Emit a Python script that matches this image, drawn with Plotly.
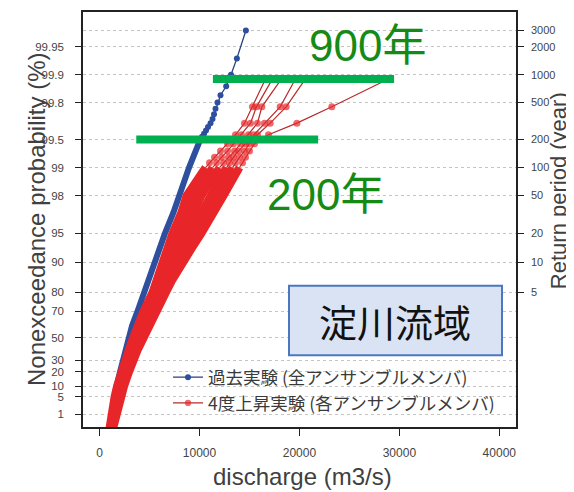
import numpy as np
import plotly.graph_objects as go

# ---------------- data ----------------
prob_ticks = [1, 5, 10, 20, 30, 50, 70, 80, 90, 95, 98, 99, 99.5, 99.8, 99.9, 99.95]
prob_labels = ["1", "5", "10", "20", "30", "50", "70", "80", "90", "95", "98", "99",
               "99.5", "99.8", "99.9", "99.95"]
rp_ticks = [5, 10, 20, 50, 100, 200, 500, 1000, 2000, 3000]
rp_labels = ["5", "10", "20", "50", "100", "200", "500", "1000", "2000", "3000"]
x_ticks = [0, 10000, 20000, 30000, 40000]
x_labels = ["0", "10000", "20000", "30000", "40000"]

# past experiment (all ensemble members, 3000 years)
blue_body_p = [0.03, 0.3, 1, 3, 5, 10, 20, 30, 40, 50, 60, 70, 80, 85, 90, 93, 95, 97, 98, 99, 99.5002]
blue_body_q = [800, 1000, 1150, 1350, 1450, 1700, 2050, 2350, 2600, 2850, 3250, 3800, 4450, 4900,
               5500, 6000, 6550, 7400, 7950, 8950, 10070]
blue_tail_p = [99.50017, 99.53349, 99.56681, 99.60013, 99.63346, 99.66678, 99.70010, 99.73342,
               99.76674, 99.80007, 99.83339, 99.86671, 99.90003, 99.93336, 99.96668]
blue_tail_q = [10070, 10250, 10450, 10650, 10850, 11100, 11300, 11450, 11600, 11800, 12100,
               12670, 13150, 13740, 14640]

# +4K experiment (each ensemble member, 900 years)
red_body_p = [0.05, 0.3, 1, 3, 5, 10, 20, 30, 40, 50, 60, 70, 80, 85, 90, 93, 95, 97, 98, 99]
red_body_q_f = [900, 1050, 1150, 1350, 1500, 1750, 2150, 2550, 2950, 3350, 3800, 4400, 5300, 5750,
                6200, 6800, 7300, 8200, 8700, 10600]
red_body_q_e = [950, 1130, 1250, 1460, 1610, 1880, 2300, 2700, 3130, 3560, 4030, 4650, 5560, 6050,
                6650, 7300, 7900, 8900, 9500, 11300]
red_body_q_d = [1010, 1200, 1340, 1560, 1710, 2020, 2460, 2870, 3320, 3770, 4260, 4900, 5810, 6350,
                7100, 7750, 8450, 9550, 10200, 12000]
red_body_q_c = [1070, 1280, 1460, 1680, 1830, 2160, 2610, 3020, 3500, 3980, 4500, 5150, 6070, 6650,
                7550, 8250, 9000, 10250, 11000, 12700]
red_body_q_b = [1130, 1370, 1550, 1790, 1940, 2300, 2780, 3180, 3670, 4190, 4720, 5400, 6360, 6980,
                8000, 8800, 9600, 10900, 11700, 13300]
red_body_q_a = [1200, 1450, 1650, 1900, 2050, 2450, 2950, 3350, 3850, 4400, 4950, 5650, 6650, 7300,
                8500, 9300, 10200, 11500, 12400, 14000]

red_tail_p = [99.11210, 99.22309, 99.33407, 99.44506, 99.55605, 99.66704, 99.77802, 99.88901]
red_tail_q_a = [14300, 14600, 15000, 15500, 16900, 19740, 23240, 28900]
red_tail_q_b = [13600, 14000, 14500, 15000, 15800, 17070, 18670, 20600]
red_tail_q_c = [13000, 13400, 13900, 14600, 15400, 16500, 18070, 19600]
red_tail_q_d = [12400, 12900, 13500, 14100, 14900, 15800, 16240, 18200]
red_tail_q_e = [11700, 12200, 12800, 13400, 14200, 15100, 15700, 17300]
red_tail_q_f = [11000, 11500, 12100, 12800, 13600, 14500, 15300, 16600]

# reference return-period levels (green bars)
level_periods = [900, 200]
level_labels = ["900年", "200年"]
level_q_from = [11340, 3670]
level_q_to = [29470, 21870]

# ---------------- helpers ----------------
def gumbel(p_percent):
    p = np.asarray(p_percent, dtype=float) / 100.0
    return -np.log(-np.log(p))

def gumbel_T(T):
    T = np.asarray(T, dtype=float)
    return -np.log(-np.log(1.0 - 1.0 / T))

OFF = 8  # page body margin
W, H = 566, 484
ML, MT = 75, 2
PW, PH = 433, 417
MR, MB = W - ML - PW, H - MT - PH

def px(xp):  # page pixel -> paper
    return (xp - OFF - ML) / PW

def py(yp):
    return 1 - (yp - OFF - MT) / PH

BLUE = "#2d4f9e"
BLUE_LINE = "#26407e"
RED = "#e8262a"
RED_LINE = "#b82a2a"
GREEN_BAR = "#00b050"
GREEN_TXT = "#158a15"
CJK = "Noto Sans CJK JP"
LAT = "Liberation Sans, Arial, Noto Sans CJK JP"

fig = go.Figure()

fig.add_trace(go.Scatter(x=blue_body_q, y=gumbel(blue_body_p), mode="lines",
                         line=dict(color=BLUE, width=6), showlegend=False, hoverinfo="skip"))
fig.add_trace(go.Scatter(x=blue_tail_q, y=gumbel(blue_tail_p), mode="lines+markers",
                         line=dict(color=BLUE_LINE, width=1.3),
                         marker=dict(color=BLUE, size=6, line=dict(width=0)),
                         name="過去実験 (全アンサンブルメンバ)"))

red_bodies = [red_body_q_f, red_body_q_e, red_body_q_d, red_body_q_c, red_body_q_b, red_body_q_a]
red_tails = [red_tail_q_f, red_tail_q_e, red_tail_q_d, red_tail_q_c, red_tail_q_b, red_tail_q_a]
for body in red_bodies:
    fig.add_trace(go.Scatter(x=body, y=gumbel(red_body_p), mode="lines",
                             line=dict(color=RED, width=8), showlegend=False, hoverinfo="skip"))
for i, (body, tail) in enumerate(zip(red_bodies, red_tails)):
    xs = [body[-1]] + tail
    ys = list(gumbel([red_body_p[-1]] + red_tail_p))
    sizes = [0] + [7] * len(tail)
    fig.add_trace(go.Scatter(x=xs, y=ys, mode="lines+markers",
                             line=dict(color=RED_LINE, width=1.2),
                             marker=dict(color=RED, size=sizes, line=dict(width=0)),
                             name="4度上昇実験 (各アンサンブルメンバ)",
                             showlegend=(i == len(red_bodies) - 1)))

fig.add_trace(go.Scatter(x=[None], y=[None], yaxis="y2", showlegend=False, hoverinfo="skip"))

shapes = []
for T, q0, q1 in zip(level_periods, level_q_from, level_q_to):
    yv = float(gumbel_T(T))
    shapes.append(dict(type="line", xref="x", yref="y", x0=q0, x1=q1, y0=yv, y1=yv,
                       line=dict(color=GREEN_BAR, width=8), layer="above"))
shapes.append(dict(type="rect", xref="paper", yref="paper", x0=px(289), x1=px(502),
                   y0=py(355), y1=py(285), fillcolor="#dae3f3",
                   line=dict(color="#4a78c0", width=2), layer="above"))

def ann(text, xp, yp, size, color, family, angle=0):
    return dict(text=text, x=px(xp), y=py(yp), xref="paper", yref="paper", showarrow=False,
                xanchor="center", yanchor="middle", textangle=angle,
                font=dict(family=family, size=size, color=color))

annotations = [
    ann(level_labels[0], 367, 44, 44, GREEN_TXT, LAT),
    ann(level_labels[1], 325, 193, 44, GREEN_TXT, LAT),
    ann("淀川流域", 395, 320, 38, "#111111", CJK),
    ann("discharge (m3/s)", 302, 477, 24, "#404040", LAT),
    ann("Nonexceedance probability (%)", 36, 218, 24, "#404040", LAT, -90),
    ann("Return period (year)", 558, 190, 22, "#404040", LAT, -90),
]

tickfont = dict(family=LAT, size=12, color="#444444")

fig.update_layout(
    width=W, height=H, autosize=False,
    margin=dict(l=ML, r=MR, t=MT, b=MB, pad=0),
    paper_bgcolor="white", plot_bgcolor="white",
    shapes=shapes, annotations=annotations,
    showlegend=True,
    legend=dict(x=px(168), y=py(359), xanchor="left", yanchor="top",
                bgcolor="rgba(0,0,0,0)", borderwidth=0,
                font=dict(family=CJK, size=17.5, color="#3a3a3a"),
                tracegroupgap=0, itemsizing="trace"),
    xaxis=dict(range=[-1660, 41670], tickvals=x_ticks, ticktext=x_labels,
               showgrid=False, zeroline=False, showline=True, linecolor="#222222", linewidth=1.5,
               mirror=True, ticks="outside", ticklen=7, tickcolor="#222222", tickfont=tickfont,
               ticklabelstandoff=7),
    yaxis=dict(range=[-1.848, 8.466], tickvals=list(gumbel(prob_ticks)), ticktext=prob_labels,
               showgrid=True, gridcolor="#c4c4c4", griddash="3px,3px", gridwidth=1,
               zeroline=False, showline=True, linecolor="#222222", linewidth=1.5,
               ticks="outside", ticklen=6, tickcolor="#222222",
               tickfont=dict(family=LAT, size=11.5, color="#444444"),
               ticklabelstandoff=9),
    yaxis2=dict(range=[-1.848, 8.466], overlaying="y", side="right", anchor="x",
                tickvals=list(gumbel_T(rp_ticks)), ticktext=rp_labels,
                showgrid=True, gridcolor="#c4c4c4", griddash="3px,3px", gridwidth=1,
                zeroline=False, showline=True, linecolor="#222222", linewidth=1.5,
                ticks="outside", ticklen=6, tickcolor="#222222",
                tickfont=dict(family=LAT, size=11, color="#444444"),
                ticklabelstandoff=5),
)

fig.write_html("out.html")
